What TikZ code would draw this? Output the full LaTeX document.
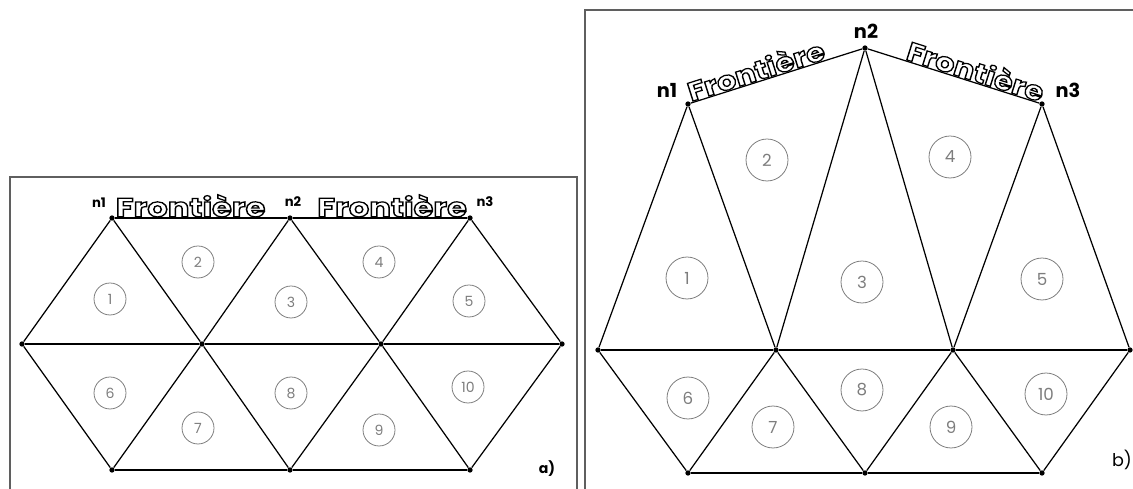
\documentclass[tikz,border=0pt]{standalone}
\usepackage{fontspec}
\setmainfont{Poppins}
\usetikzlibrary{positioning}
\definecolor{cellGray}{RGB}{125,125,125}
\definecolor{frameGray}{RGB}{95,95,95}
% outlined glyphs (stroke only)
\newcommand{\outlinetext}[1]{\special{pdf:literal direct q 1 Tr 0.7 w}#1\special{pdf:literal direct Q}}
\tikzset{
  vtx/.style={circle, fill=black, inner sep=0pt, minimum size=3pt},
  mesh/.style={line width=0.7pt, draw=black},
  frame/.style={line width=0.8pt, draw=frameGray},
  cell/.style={circle, draw=cellGray, line width=0.45pt, text=cellGray, inner sep=0pt},
  cellA/.style={cell, minimum size=0.64cm, font=\fontsize{8}{9}\selectfont},
  cellB/.style={cell, minimum size=0.84cm, font=\fontsize{9.5}{10}\selectfont},
  frontier/.style={inner sep=0.4pt, font=\fontsize{15}{16}\selectfont\bfseries},
  nlabA/.style={font=\fontsize{7.5}{8}\selectfont\bfseries, inner sep=0pt},
  nlabB/.style={font=\fontsize{11}{12}\selectfont\bfseries, inner sep=0pt}
}

\begin{document}
\begin{tikzpicture}[x=0.02cm, y=-0.02cm]
\useasboundingbox (0,0) rectangle (1133,489);
\clip (0,0) rectangle (1133,489);

% ---- a) regular mesh
\draw[frame] (10,500) -- (10,177) -- (577,177) -- (577,500);
\node[vtx] (an1) at (112,218) {};
\node[vtx] (an2) at (290,218) {};
\node[vtx] (an3) at (470,218) {};
\node[vtx] (am0) at (22,344) {};
\node[vtx] (am1) at (202,344) {};
\node[vtx] (am2) at (381,344) {};
\node[vtx] (am3) at (562,344) {};
\node[vtx] (ab1) at (112,470) {};
\node[vtx] (ab2) at (290,470) {};
\node[vtx] (ab3) at (470,470) {};
\draw[mesh] (an1) -- (an2) -- (an3);
\draw[mesh] (am0) -- (am1) -- (am2) -- (am3);
\draw[mesh] (ab1) -- (ab2) -- (ab3);
\draw[mesh] (am0) -- (an1) -- (am1) -- (an2) -- (am2) -- (an3) -- (am3);
\draw[mesh] (am0) -- (ab1) -- (am1) -- (ab2) -- (am2) -- (ab3) -- (am3);
\path (an1) -- (an2) node[frontier, pos=0.44, above, xscale=1.22] (afr1) {\outlinetext{Frontière}};
\path (an2) -- (an3) node[frontier, pos=0.57, above, xscale=1.22] (afr2) {\outlinetext{Frontière}};
\node[nlabA] (alab1) at (99,203) {n1};
\node[nlabA] (alab2) at (293,202) {n2};
\node[nlabA] (alab3) at (485,202) {n3};
\node[cellA] (a1) at (110,299) {1};
\node[cellA] (a2) at (198,262) {2};
\node[cellA] (a3) at (291,302) {3};
\node[cellA] (a4) at (379,262) {4};
\node[cellA] (a5) at (469,301) {5};
\node[cellA] (a6) at (110,393) {6};
\node[cellA] (a7) at (198,428) {7};
\node[cellA] (a8) at (291,393) {8};
\node[cellA] (a9) at (379,430) {9};
\node[cellA] (a10) at (468,387) {10};
\node[font=\fontsize{8}{9}\selectfont\bfseries] (atag) at (547,469) {a)};

% ---- b) moved boundary node n2
\draw[frame] (585,500) -- (585,10) -- (1140,10);
\node[vtx] (bn1) at (688,104) {};
\node[vtx] (bn2) at (865,48) {};
\node[vtx] (bn3) at (1042,104) {};
\node[vtx] (bm0) at (598,350) {};
\node[vtx] (bm1) at (776,350) {};
\node[vtx] (bm2) at (953,350) {};
\node[vtx] (bm3) at (1130,350) {};
\node[vtx] (bb1) at (688,473) {};
\node[vtx] (bb2) at (865,473) {};
\node[vtx] (bb3) at (1042,473) {};
\draw[mesh] (bn1) -- (bn2) -- (bn3);
\draw[mesh] (bm0) -- (bm1) -- (bm2) -- (bm3);
\draw[mesh] (bb1) -- (bb2) -- (bb3);
\draw[mesh] (bm0) -- (bn1) -- (bm1) -- (bn2) -- (bm2) -- (bn3) -- (bm3);
\draw[mesh] (bm0) -- (bb1) -- (bm1) -- (bb2) -- (bm2) -- (bb3) -- (bm3);
\path (bn1) -- (bn2) node[frontier, pos=0.40, above, sloped, xscale=1.16] (bfr1) {\outlinetext{Frontière}};
\path (bn2) -- (bn3) node[frontier, pos=0.61, above, sloped, xscale=1.16] (bfr2) {\outlinetext{Frontière}};
\node[nlabB] (blab1) at (667,90) {n1};
\node[nlabB] (blab2) at (866,31) {n2};
\node[nlabB] (blab3) at (1068,90) {n3};
\node[cellB] (b1) at (687,278) {1};
\node[cellB] (b2) at (767,160) {2};
\node[cellB] (b3) at (862,282) {3};
\node[cellB] (b4) at (950,157) {4};
\node[cellB] (b5) at (1042,279) {5};
\node[cellB] (b6) at (688,398) {6};
\node[cellB] (b7) at (773,427) {7};
\node[cellB] (b8) at (862,390) {8};
\node[cellB] (b9) at (951,427) {9};
\node[cellB] (b10) at (1046,394) {10};
\node[font=\fontsize{10}{11}\selectfont] (btag) at (1122,460) {b)};
\end{tikzpicture}
\end{document}
